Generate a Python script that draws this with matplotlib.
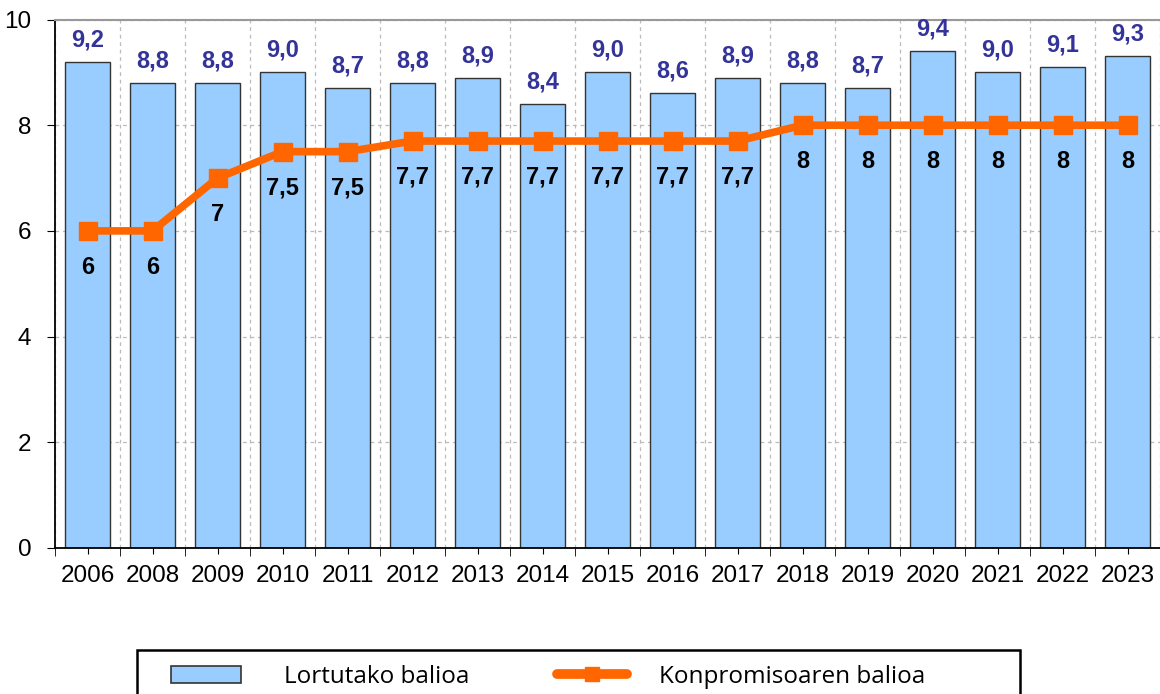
import numpy as np
import matplotlib
matplotlib.use("Agg")
import matplotlib.pyplot as plt
from matplotlib.lines import Line2D
from matplotlib.patches import Patch, Rectangle

# Podaci
years = ["2006", "2008", "2009", "2010", "2011", "2012", "2013", "2014", "2015",
         "2016", "2017", "2018", "2019", "2020", "2021", "2022", "2023"]
obtained = [9.2, 8.8, 8.8, 9.0, 8.7, 8.8, 8.9, 8.4, 9.0,
            8.6, 8.9, 8.8, 8.7, 9.4, 9.0, 9.1, 9.3]
commitment = [6, 6, 7, 7.5, 7.5, 7.7, 7.7, 7.7, 7.7,
              7.7, 7.7, 8, 8, 8, 8, 8, 8]

bar_label = "Lortutako balioa"
line_label = "Konpromisoaren balioa"

BAR_COLOR = "#99CCFF"
LINE_COLOR = "#FF6600"
LABEL_BLUE = "#333399"

plt.rcParams["font.family"] = ["Liberation Sans", "DejaVu Sans"]

fig = plt.figure(figsize=(11.6, 6.94), dpi=100)
ax = fig.add_axes([55 / 1160, 146 / 694, 1105 / 1160, 528.5 / 694])

x = np.arange(len(years))
ax.bar(x, obtained, width=0.68, color=BAR_COLOR, edgecolor="#333333",
       linewidth=1.0, zorder=2)
ax.plot(x, commitment, color=LINE_COLOR, lw=5.5, marker="s", markersize=13,
        zorder=3, solid_joinstyle="miter")

# Oznake vrijednosti
for xi, v in zip(x, obtained):
    ax.text(xi, v + 0.2, f"{v:.1f}".replace(".", ","), ha="center",
            va="bottom", fontsize=17, fontweight="bold", color=LABEL_BLUE,
            zorder=4)
for xi, v in zip(x, commitment):
    s = f"{v:g}".replace(".", ",")
    ax.text(xi, v - 0.47, s, ha="center", va="top", fontsize=17,
            fontweight="bold", color="black", zorder=4)

# Osi
ax.set_xlim(-0.5, len(years) - 0.5)
ax.set_ylim(0, 10)
ax.set_yticks([0, 2, 4, 6, 8, 10])
ax.set_xticks(x)
ax.set_xticklabels(years)
ax.set_xticks(np.arange(-0.5, len(years) - 0.4, 1), minor=True)
ax.tick_params(axis="x", which="major", length=4, pad=8, labelsize=17.5)
ax.tick_params(axis="x", which="minor", length=6)
ax.tick_params(axis="y", length=6, pad=11, labelsize=17.5)

ax.grid(axis="y", which="major", linestyle=(0, (3, 3)), color="#BBBBBB",
        lw=0.9, zorder=0)
ax.grid(axis="x", which="minor", linestyle=(0, (3, 3)), color="#BBBBBB",
        lw=0.9, zorder=0)
ax.grid(axis="x", which="major", visible=False)

ax.spines["right"].set_visible(False)
ax.spines["top"].set_color("#999999")
ax.spines["top"].set_linewidth(1.5)
ax.spines["left"].set_linewidth(1.3)
ax.spines["bottom"].set_linewidth(1.3)

# Legenda s okvirom koji izlazi izvan slike
fig.patches.append(Rectangle((137 / 1160, -0.05), 883 / 1160, 0.05 + 44 / 694,
                             transform=fig.transFigure, fill=False,
                             edgecolor="black", lw=1.8))
leg_font = {"family": ["Open Sans", "Liberation Sans"], "size": 17.5}
bar_handle = Patch(facecolor=BAR_COLOR, edgecolor="#333333", lw=1.2)
line_handle = Line2D([], [], color=LINE_COLOR, lw=7, marker="s", markersize=10,
                     solid_capstyle="round")
fig.legend([bar_handle], [bar_label], frameon=False, loc="center left",
           bbox_to_anchor=(149 / 1160, 17 / 694), prop=leg_font,
           handlelength=2.88, handleheight=0.74, handletextpad=1.77,
           borderpad=0.4)
fig.legend([line_handle], [line_label], frameon=False, loc="center left",
           bbox_to_anchor=(535 / 1160, 17 / 694), prop=leg_font,
           handlelength=2.88, handleheight=0.74, handletextpad=1.32,
           borderpad=0.4)

fig.savefig("out.png", dpi=100)
